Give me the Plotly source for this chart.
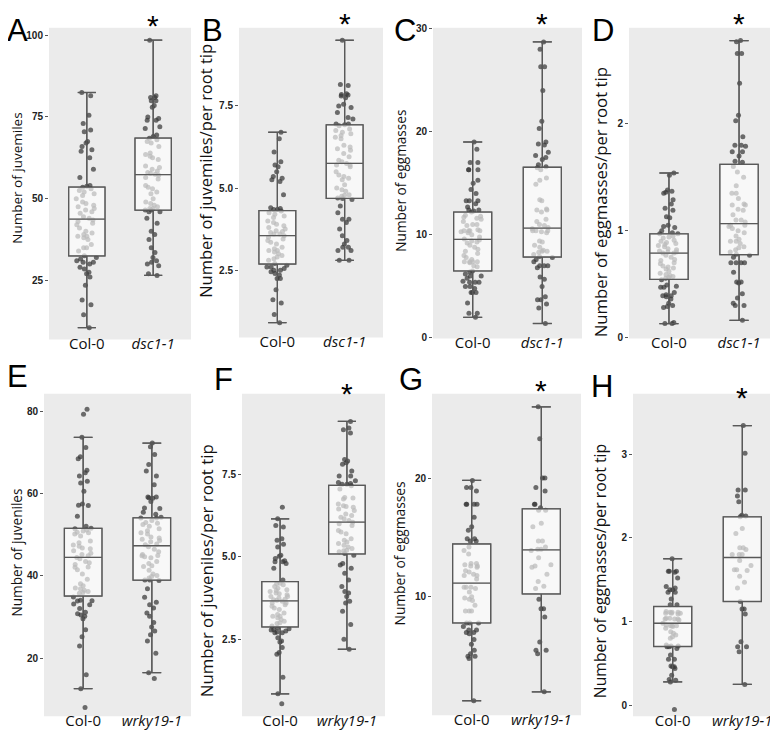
import plotly.graph_objects as go

# ---------------- data ----------------
A_col0 = [82.5, 81.5, 75.5, 73, 71, 70.5, 67.5, 67, 66, 65, 64.5, 62.5, 59, 56.5, 54, 53.8, 53.5,
          53, 52.5, 52, 51.5, 51, 50, 49, 48.5, 48, 47.5, 47, 46.5, 46, 45.5, 44.5, 44, 43.5, 43, 42.5,
          42, 41, 40, 39.5, 39, 38.5, 38.5, 38, 37.5, 36, 35, 35, 34,
          32.5, 32, 31.5, 31, 30.5, 30.5, 30, 29, 28.5, 27.5, 27, 26, 23.5, 19, 17.5, 14.5, 10.5]
A_dsc = [98.5, 81.5, 81, 81, 80, 80, 78.5, 78, 75, 74.5, 74, 74, 72, 71.5, 69.5, 69,
         68.5, 68, 67.5, 67, 66, 64, 63.5, 63, 62.5, 62, 60, 59.5, 59, 58.5, 58, 57.8, 57.5, 57.2, 56.5,
         56, 54, 53.5, 53, 52, 51.5, 50, 49, 48.5, 48, 47.5, 47, 47,
         46.5, 46.5, 46, 46, 44, 42.5, 40, 39, 37.5, 35, 33.5, 32, 31, 30.5, 30, 29.5, 27, 26.5]

B_col0 = [6.7, 6.5, 6.1, 5.8, 5.7, 5.65, 5.5, 5.35, 5.3, 5.25, 5.2, 4.8, 4.4, 4.38, 4.35, 4.35,
          4.3, 4.25, 4.2, 4.15, 4.1, 4.0, 3.95, 3.9, 3.85, 3.8, 3.75, 3.7, 3.68, 3.65, 3.6, 3.6, 3.55,
          3.5, 3.45, 3.4, 3.35, 3.3, 3.2, 3.15, 3.1, 3.1, 3.05, 3.0, 2.95, 2.9, 2.85, 2.8,
          2.7, 2.65, 2.6, 2.6, 2.55, 2.5, 2.5, 2.45, 2.4, 2.35, 2.25, 2.25, 1.9, 1.6, 1.5, 1.15, 0.9]
B_dsc = [9.5, 8.15, 8.12, 7.87, 7.85, 7.83, 7.8, 7.75, 7.55, 7.5, 7.45, 7.3, 7.15, 7.1, 6.95, 6.95, 6.93, 6.9,
         6.8, 6.75, 6.7, 6.65, 6.6, 6.55, 6.5, 6.3, 6.25, 6.2, 6.15, 6.05, 5.95, 5.85, 5.8, 5.75, 5.7, 5.7,
         5.65, 5.5, 5.4, 5.35, 5.3, 5.25, 5.1, 5.0, 4.95, 4.9, 4.8, 4.78, 4.75,
         4.7, 4.68, 4.65, 4.45, 4.25, 4.05, 4.05, 3.95, 3.75, 3.55, 3.4, 3.3, 3.2, 3.2, 3.1, 3.1, 2.8, 2.8]

C_col0 = [19, 18.3, 17, 17, 16.3, 16.3, 16.3, 15.3, 15, 14.4, 14, 13.3, 13.3, 13.3, 13, 12.7, 12.4, 12.4, 12.3, 12.2,
          11.9, 11.8, 11.7, 11.6, 11.5, 11.3, 11, 11, 10.9, 10.5, 10.4, 10.4, 10.4, 10.4, 10.3, 10.2, 10, 9.8,
          9.6, 9.5, 9.4, 9.3, 9.2, 9.0, 8.8, 8.6, 8.4, 8.2, 8.0, 7.8, 7.6, 7.4, 7.4, 7.4, 7.4, 7.3, 7.0, 6.9,
          6.5, 6.4, 6.2, 6.0, 6.0, 5.8, 5.5, 5.4, 5.4, 5.4, 5.0, 5.0, 4.8, 4.4, 4.4, 4.4, 3.4, 2.4, 2.4, 2.0]
C_dsc = [28.7, 28, 26.3, 26.3, 24, 21, 20.3, 19, 18.8, 18.7, 18, 17.7, 17.5, 17.3, 16.8, 16.6, 16.5,
         16.3, 15.5, 15.3, 14.9, 13.4, 13.3, 12.5, 12.4, 12.4, 12.2, 11.5, 11.3, 11.0, 10.9, 10.7, 10.6,
         10.4, 10.4, 10.4, 10.3, 10.2, 9.4, 9.3, 9.0, 8.8, 8.5, 8.4, 8.4, 8.3, 8.1,
         7.9, 7.8, 7.6, 7.4, 7.0, 7.0, 7.0, 6.8, 5.9, 5.7, 5.0, 4.0, 3.7, 3.7, 3.3, 2.9, 1.4]

D_col0 = [1.54, 1.52, 1.38, 1.37, 1.36, 1.35, 1.29, 1.25, 1.21, 1.19, 1.13, 1.12, 1.05, 1.04, 1.03, 1.0, 0.98, 0.97, 0.97,
          0.95, 0.94, 0.93, 0.91, 0.9, 0.89, 0.88, 0.87, 0.86, 0.85, 0.83, 0.82, 0.81, 0.8, 0.8, 0.79, 0.79,
          0.77, 0.75, 0.73, 0.72, 0.7, 0.69, 0.67, 0.66, 0.65, 0.64, 0.62, 0.6, 0.59, 0.58, 0.57,
          0.56, 0.555, 0.54, 0.49, 0.48, 0.47, 0.47, 0.42, 0.4, 0.39, 0.39, 0.38, 0.36, 0.32, 0.3, 0.29, 0.28,
          0.14, 0.13, 0.13]
D_dsc = [2.78, 2.77, 2.66, 2.66, 2.38, 2.08, 2.03, 1.88, 1.8, 1.8, 1.79, 1.74, 1.74, 1.7, 1.65, 1.64, 1.6,
         1.55, 1.5, 1.42, 1.35, 1.35, 1.3, 1.25, 1.24, 1.24, 1.2, 1.19, 1.15, 1.1, 1.1, 1.08, 1.05, 1.05,
         1.04, 1.02, 1.0, 0.98, 0.95, 0.92, 0.9, 0.9, 0.88, 0.85, 0.84, 0.82, 0.8,
         0.78, 0.77, 0.75, 0.7, 0.7, 0.7, 0.7, 0.61, 0.52, 0.52, 0.51, 0.41, 0.37, 0.32, 0.3, 0.3, 0.16]

E_col0 = [80.5, 79.3, 73.7, 71.2, 69, 68.5, 65.7, 65.1, 64.3, 63, 62.6, 60.6, 57.5, 57.2, 57.1, 54.5, 52.1, 51.6, 51.5,
          51.2, 50.9, 50.6, 50.5, 50.2, 49.7, 48.5, 48.1, 47.5, 47.2, 46.8, 46.6, 46.1, 45.5, 45.2, 44.9, 44.5,
          44.2, 43.5, 43.2, 42.8, 42.2, 42.1, 41.5, 40.5, 39.2, 38.1, 37.6, 37.1, 36.9, 36.5, 36.2, 36.0, 35.8,
          34.9, 34.1, 34.0, 33.9, 33.2, 33.0, 32.1, 31.2, 30.8, 30.5, 30.2, 29.6, 26.9, 25.2, 23.0, 16.0, 12.6, 8.0]
E_wrky = [72.3, 71.4, 69.5, 67.1, 65.5, 64.3, 62.2, 59.2, 59.2, 59.0, 58.9, 58.1, 56.5, 56.4, 55.5, 55.0, 54.3, 54.1, 54.1,
          53.5, 53.0, 52.8, 52.5, 52.1, 51.5, 51.0, 50.5, 50.2, 49.5, 49.2, 48.9, 48.6, 48.3, 47.8, 47.6,
          47.1, 46.5, 45.9, 45.2, 45.0, 44.9, 44.7, 44.4, 43.5, 43.0, 42.5, 42.3, 41.4, 40.5, 40.1, 39.9, 39.5,
          39.0, 39.0, 38.9, 36.9, 34.8, 33.6, 33.0, 32.2, 31.0, 30.2, 28.7, 27.6, 26.6, 25.7, 24.2, 21.2, 16.5, 15.1]

F_col0 = [6.5, 6.15, 5.95, 5.9, 5.55, 5.5, 5.38, 5.3, 5.05, 5.02, 4.95, 4.88, 4.85, 4.85, 4.8, 4.65, 4.3, 4.2, 4.18,
          4.15, 4.1, 4.05, 4.0, 3.98, 3.95, 3.9, 3.88, 3.85, 3.8, 3.8, 3.75, 3.72, 3.7, 3.68, 3.65,
          3.6, 3.6, 3.55, 3.5, 3.45, 3.4, 3.3, 3.25, 3.2, 3.2, 3.15, 3.1, 3.05, 3.0, 2.98,
          2.9, 2.85, 2.82, 2.8, 2.78, 2.75, 2.72, 2.7, 2.7, 2.55, 2.45, 2.42, 2.25, 2.1, 2.05, 1.35, 0.85, 0.55]
F_wrky = [9.1, 8.9, 8.85, 8.75, 7.95, 7.9, 7.85, 7.8, 7.6, 7.45, 7.45, 7.3, 7.25, 7.22, 7.2, 7.2, 7.15,
          7.05, 6.8, 6.78, 6.75, 6.6, 6.55, 6.52, 6.5, 6.45, 6.4, 6.3, 6.25, 6.2, 6.15, 6.1,
          6.05, 6.0, 5.95, 5.8, 5.75, 5.7, 5.55, 5.5, 5.45, 5.4, 5.35, 5.3, 5.25, 5.2, 5.18,
          5.15, 5.1, 5.05, 4.8, 4.75, 4.65, 4.5, 4.3, 4.1, 3.95, 3.9, 3.8, 3.65, 3.6, 3.35, 2.95, 2.5, 2.2]

G_col0 = [19.8, 19.2, 19.2, 18.9, 17.8, 17.8, 17.8, 17.8, 16.7, 15.9, 15.6, 14.9, 14.9, 14.7, 14.7,
          14.2, 13.9, 13.6, 12.8, 12.8, 12.7, 12.6, 12.6, 12.5, 12.2, 12.1, 11.9, 11.8, 11.8, 11.5,
          10.8, 10.8, 10.8, 10.7, 10.4, 10.0, 9.9, 9.8, 9.7, 9.3, 8.8, 8.8, 8.8,
          7.8, 7.8, 7.8, 7.5, 7.2, 7.2, 7.0, 7.0, 6.9, 6.4, 6.0, 5.5, 5.2, 5.0, 5.0, 4.8, 1.25]
G_wrky = [26.0, 23.3, 20.0, 20.0, 19.2, 18.9, 17.8, 17.8, 17.5, 17.3, 17.3,
          16.2, 15.9, 14.7, 14.7, 14.2, 14.0, 14.0, 13.9, 13.3, 12.7, 12.6, 12.5, 11.9, 11.3, 10.9, 10.7,
          9.8, 9.0, 9.0, 8.3, 6.2, 5.5, 5.5, 5.2, 2.0]

H_col0 = [1.75, 1.6, 1.6, 1.6, 1.59, 1.52, 1.42, 1.4, 1.38, 1.38, 1.35, 1.35, 1.27, 1.2, 1.2,
          1.12, 1.11, 1.11, 1.11, 1.1, 1.1, 1.1, 1.09, 1.04, 1.04, 1.03, 1.03, 1.03, 1.02, 0.98,
          0.96, 0.95, 0.95, 0.95, 0.94, 0.92, 0.88, 0.86, 0.84, 0.82, 0.8, 0.72, 0.71, 0.71,
          0.7, 0.7, 0.68, 0.6, 0.55, 0.55, 0.47, 0.46, 0.46, 0.44, 0.36, 0.31, 0.3, 0.28, -0.05]
H_wrky = [3.34, 3.01, 2.57, 2.57, 2.5, 2.43, 2.27, 2.26, 2.25,
          2.11, 2.05, 1.88, 1.88, 1.86, 1.8, 1.8, 1.8, 1.73, 1.67, 1.62, 1.62, 1.61, 1.54, 1.47, 1.4,
          1.24, 1.15, 1.15, 1.09, 0.76, 0.7, 0.7, 0.64, 0.25]

genotypes_top = ["Col-0", "dsc1-1"]
genotypes_bottom = ["Col-0", "wrky19-1"]

titles = ["Number of juvemiles", "Number of juvemiles/per root tip", "Number of eggmasses",
          "Number of eggmasses/per root tip", "Number of juveniles", "Number of juveniles/per root tip",
          "Number of eggmasses", "Number of eggmasses/per root tip"]
letters = ["A", "B", "C", "D", "E", "F", "G", "H"]
series = [(A_col0, A_dsc), (B_col0, B_dsc), (C_col0, C_dsc), (D_col0, D_dsc),
          (E_col0, E_wrky), (F_col0, F_wrky), (G_col0, G_wrky), (H_col0, H_wrky)]
ytickvals = [[25, 50, 75, 100], [2.5, 5.0, 7.5], [0, 10, 20, 30], [0, 1, 2],
             [20, 40, 60, 80], [2.5, 5.0, 7.5], [10, 20], [0, 1, 2, 3]]
significant = [True, True, True, True, False, True, True, True]

# ---------------- layout (pixels) ----------------
W, H = 778, 731
yranges = [[6.9, 102.3], [0.45, 9.88], [-0.05, 30.07], [-0.01, 2.9],
           [5.9, 84.3], [0.17, 9.94], [0.03, 27.1], [-0.13, 3.72]]
boxes_px = [(41, 15, 183, 331), (231, 15, 375, 329), (425, 15, 574, 330), (621, 15, 771, 330),
            (36, 386, 183, 713), (234, 386, 377, 713), (424, 386, 573, 712), (625, 386, 774, 713)]
title_pos = [(9, 168), (198, 160), (393, 170), (592, 192), (9, 547), (198, 566), (392, 548), (592, 566)]
title_size = [13.5, 16.5, 13.6, 16.8, 13.6, 16.8, 13.8, 15.8]
letter_x = [9, 204, 397, 595, 9, 215, 403, 594]
letter_mid_y = [None, None, None, None, 369, 372, 372, 379]   # top row anchored at the paper top
star_y = [13, 11, 11, 11, None, 386, 383, 390]

fig = go.Figure()
layout = dict(width=W, height=H, margin=dict(l=0, r=0, t=0, b=0),
              paper_bgcolor="white", plot_bgcolor="#EBEBEB", showlegend=False,
              boxmode="overlay", boxgap=0.22, annotations=[])

DOT = "rgba(55,55,55,0.72)"
LINE = "#595959"
for i in range(8):
    k = i + 1
    xa = "x" if k == 1 else f"x{k}"
    ya = "y" if k == 1 else f"y{k}"
    cats = genotypes_top if i < 4 else genotypes_bottom
    for j, vals in enumerate(series[i]):
        xs = [cats[j]] * len(vals)
        # points layer (underneath)
        fig.add_trace(go.Box(x=xs, y=vals, xaxis=xa, yaxis=ya, boxpoints="all", jitter=0.62,
                             pointpos=0, fillcolor="rgba(0,0,0,0)", line=dict(color=LINE, width=1.2),
                             marker=dict(color=DOT, size=5), hoverinfo="skip"))
        # semi-transparent box on top
        fig.add_trace(go.Box(x=xs, y=vals, xaxis=xa, yaxis=ya, boxpoints="all", jitter=0.62,
                             pointpos=0, fillcolor="rgba(255,255,255,0.66)",
                             line=dict(color=LINE, width=1.3),
                             marker=dict(color=DOT, size=5, opacity=0), hoverinfo="skip"))
    x0, y0, x1, y1 = boxes_px[i]
    fmt = ".1f" if i in (1, 5) else ""
    layout["xaxis" if k == 1 else f"xaxis{k}"] = dict(
        domain=[x0 / W, x1 / W], anchor=ya, type="category",
        categoryorder="array", categoryarray=cats, range=[-0.57, 1.57],
        tickvals=cats, ticktext=[cats[0], f"<i>{cats[1]}</i>"],
        showgrid=False, zeroline=False, showline=False, ticks="", ticklabelstandoff=-6,
        tickfont=dict(family="Open Sans", size=15, color="#111"))
    layout["yaxis" if k == 1 else f"yaxis{k}"] = dict(
        domain=[1 - y1 / H, 1 - y0 / H], anchor=xa, range=yranges[i],
        tickvals=ytickvals[i], tickformat=fmt, showgrid=False, zeroline=False, showline=False,
        ticks="outside", ticklen=3, tickcolor="#555", tickwidth=1,
        tickfont=dict(family="Liberation Sans", size=10, color="#222", weight="bold"))
    # y-axis title
    tx, ty = title_pos[i]
    layout["annotations"].append(dict(
        text=titles[i], xref="paper", yref="paper", x=tx / W, y=1 - ty / H,
        textangle=-90, showarrow=False, xanchor="center", yanchor="middle",
        font=dict(family="Open Sans", size=title_size[i], color="#111")))
    # panel letter
    if letter_mid_y[i] is None:
        layout["annotations"].append(dict(
            text=letters[i], xref="paper", yref="paper", x=letter_x[i] / W, y=1, showarrow=False,
            xanchor="center", yanchor="top", borderpad=0, borderwidth=0,
            font=dict(family="Liberation Sans", size=31, color="#000")))
    else:
        layout["annotations"].append(dict(
            text=letters[i], xref="paper", yref="paper", x=letter_x[i] / W,
            y=1 - letter_mid_y[i] / H, showarrow=False, xanchor="center", yanchor="middle",
            font=dict(family="Liberation Sans", size=31, color="#000")))
    if significant[i]:
        layout["annotations"].append(dict(
            text="*", xref=xa, yref="paper", x=1, y=1 - star_y[i] / H, showarrow=False,
            xanchor="center", yanchor="middle",
            font=dict(family="Liberation Sans", size=30, color="#000")))

fig.update_layout(**layout)
fig.write_html("out.html")
